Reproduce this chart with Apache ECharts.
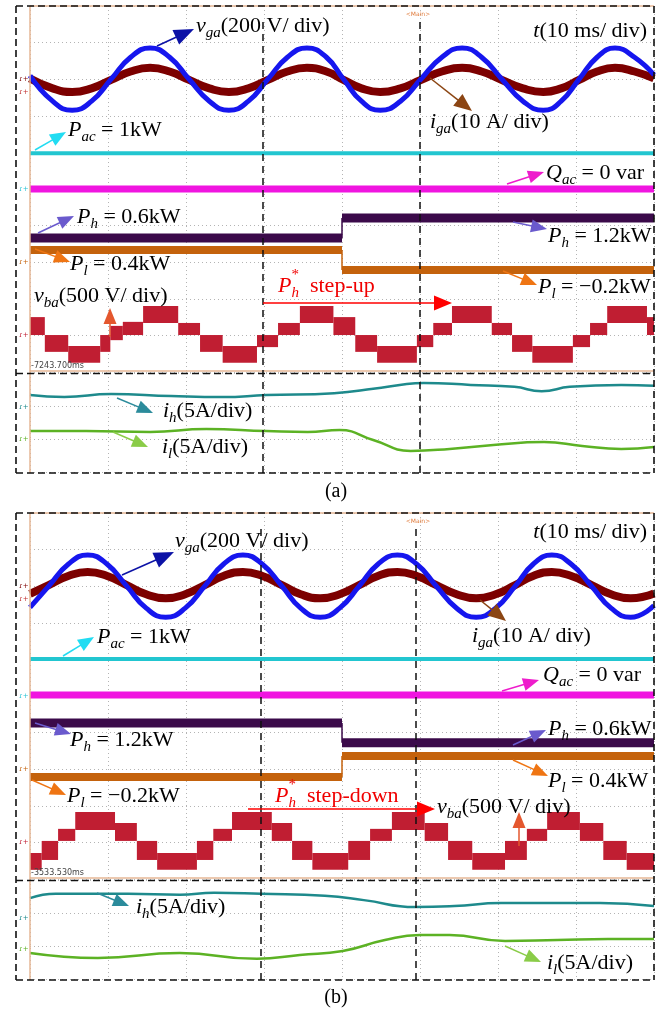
<!DOCTYPE html>
<html><head><meta charset="utf-8">
<script src="https://cdn.jsdelivr.net/npm/echarts@6/dist/echarts.min.js"></script>
<style>html,body{margin:0;padding:0;background:#fff;}#c{width:668px;height:1011px;}</style>
</head><body><div id="c"></div>
<script>
// ---------- DATA (time in ms, values in oscilloscope screen divisions) ----------
const timeTicks = [0,10,20,30,40,50,60,70,80];
const stepTime = 40;

// Panel (a)
const vgaA = [[0,8.10],[2.9,7.40],[5.4,7.15],[7.9,7.40],[10.4,8.0],[12.9,8.60],[15.4,8.85],[17.9,8.60],[20.4,8.0],[23.0,7.40],[25.5,7.15],[28.0,7.40],[30.5,8.0],[33.0,8.60],[35.5,8.85],[38.0,8.60],[40.2,8.0],[42.5,7.40],[44.9,7.15],[47.5,7.40],[50.1,8.0],[52.8,8.60],[55.4,8.85],[57.9,8.60],[60.5,8.0],[63.2,7.40],[65.8,7.15],[68.1,7.40],[70.4,8.0],[72.7,8.60],[75.0,8.85],[77.5,8.60],[80,8.12]];
const igaA = [[0,8.02],[2.9,7.75],[5.4,7.65],[7.9,7.75],[10.4,7.98],[12.9,8.21],[15.4,8.31],[17.9,8.21],[20.4,7.98],[23.0,7.75],[25.5,7.65],[28.0,7.75],[30.5,7.98],[33.0,8.21],[35.5,8.31],[38.0,8.21],[40.2,7.98],[42.5,7.75],[44.9,7.65],[47.5,7.75],[50.1,7.98],[52.8,8.21],[55.4,8.31],[57.9,8.21],[60.5,7.98],[63.2,7.75],[65.8,7.65],[68.1,7.75],[70.4,7.98],[72.7,8.21],[75.0,8.31],[77.5,8.21],[80,8.02]];
const pacA = 5.98;
const qacA = 5.0;
const phA = [3.66, 4.21];   // before / after step
const plA = [3.33, 2.79];
const vbaA = [ // [t0, t1, low, high]
 [0,1.9,1.01,1.50],[1.9,4.9,0.55,1.01],[4.9,9.0,0.25,0.71],[9.0,10.3,0.55,1.01],[10.3,11.9,0.87,1.26],[11.9,14.5,1.01,1.37],
 [14.5,19.0,1.34,1.80],[19.0,21.8,1.01,1.34],[21.8,24.7,0.55,1.01],[24.7,29.1,0.25,0.71],[29.1,31.8,0.68,1.01],[31.8,34.6,1.01,1.34],
 [34.6,38.9,1.34,1.80],[38.9,41.7,1.01,1.50],[41.7,44.5,0.55,1.01],[44.5,49.6,0.25,0.71],[49.6,51.7,0.68,1.01],[51.7,54.1,1.01,1.34],
 [54.1,59.2,1.34,1.80],[59.2,61.8,1.01,1.34],[61.8,64.4,0.55,1.01],[64.4,69.6,0.25,0.71],[69.6,71.8,0.68,1.01],[71.8,74.0,1.01,1.34],
 [74.0,79.1,1.34,1.80],[79.1,80,1.01,1.50]];
const ihA = [[0,2.33],[4.4,2.27],[10.4,2.36],[18.1,2.30],[24.7,2.27],[30.3,2.33],[39.0,2.39],[44.0,2.52],[48.3,2.67],[50.5,2.70],[56.5,2.64],[62.1,2.58],[65.6,2.45],[69.2,2.58],[75.8,2.64],[80,2.61]];
const ilA = [[0,1.24],[7.2,1.24],[15.4,1.21],[22.6,1.30],[30.3,1.24],[35.6,1.21],[39.7,1.27],[44.0,0.97],[48.8,0.64],[53.8,0.70],[59.4,0.82],[65.9,0.91],[70.8,0.79],[75.8,0.70],[80,0.76]];

// Panel (b)
const vgaB = [[0,7.42],[2.4,8.0],[4.9,8.60],[7.4,8.85],[9.9,8.60],[12.4,8.0],[14.9,7.40],[17.4,7.15],[19.9,7.40],[22.4,8.0],[24.8,8.60],[27.3,8.85],[29.8,8.60],[32.3,8.0],[34.7,7.40],[37.2,7.15],[39.7,7.40],[42.2,8.0],[44.6,8.60],[47.1,8.85],[49.6,8.60],[52.1,8.0],[54.7,7.40],[57.2,7.15],[59.7,7.40],[62.2,8.0],[64.5,8.60],[66.9,8.85],[69.4,8.60],[72.0,8.0],[74.5,7.40],[77.0,7.15],[80,7.47]];
const igaB = [[0,7.79],[2.4,8.03],[4.9,8.28],[7.4,8.39],[9.9,8.28],[12.4,8.03],[14.9,7.78],[17.4,7.67],[19.9,7.78],[22.4,8.03],[24.8,8.28],[27.3,8.39],[29.8,8.28],[32.3,8.03],[34.7,7.78],[37.2,7.67],[39.7,7.78],[42.2,8.03],[44.6,8.28],[47.1,8.39],[49.6,8.28],[52.1,8.03],[54.7,7.78],[57.2,7.67],[59.7,7.78],[62.2,8.03],[64.5,8.28],[66.9,8.39],[69.4,8.28],[72.0,8.03],[74.5,7.78],[77.0,7.67],[80,7.80]];
const pacB = 6.01;
const qacB = 5.03;
const phB = [4.26, 3.72];
const plB = [2.79, 3.36];
const vbaB = [
 [0,1.5,0.25,0.71],[1.5,3.6,0.52,1.04],[3.6,5.8,1.04,1.37],[5.8,10.9,1.34,1.83],[10.9,13.7,1.04,1.53],[13.7,16.3,0.52,1.04],
 [16.3,21.4,0.25,0.71],[21.4,23.5,0.52,1.04],[23.5,25.9,1.04,1.37],[25.9,31.0,1.34,1.83],[31.0,33.6,1.04,1.53],[33.6,36.2,0.52,1.04],
 [36.2,40.8,0.25,0.71],[40.8,43.6,0.52,1.04],[43.6,46.4,1.04,1.37],[46.4,50.6,1.34,1.83],[50.6,53.6,1.04,1.53],[53.6,56.7,0.52,1.04],
 [56.7,60.9,0.25,0.71],[60.9,63.7,0.52,1.04],[63.7,66.3,1.04,1.37],[66.3,70.5,1.34,1.83],[70.5,73.5,1.04,1.53],[73.5,76.5,0.52,1.04],
 [76.5,80,0.25,0.71]];
const ihB = [[0,2.45],[3.3,2.58],[12.6,2.58],[19.2,2.55],[23.6,2.61],[29.6,2.58],[37.8,2.52],[42.8,2.39],[49.4,2.18],[54.4,2.21],[60.4,2.30],[65.4,2.30],[73.1,2.30],[80,2.21]];
const ilB = [[0,0.79],[8.7,0.64],[19.2,0.79],[29.1,0.61],[34.6,0.73],[40.1,0.85],[45.5,1.18],[50.0,1.33],[53.8,1.33],[60.9,1.15],[67.6,1.18],[74.1,1.21],[80,1.21]];

// ---------- STYLES ----------
const C = {vga:'#1616ee', iga:'#7c0000', pac:'#22c6d0', qac:'#f015e0', ph:'#3b0a4a', pl:'#c4620c',
           vba:'#c01e32', ih:'#1e8a8c', il:'#5cb224'};
const FONT = '"Liberation Serif","Times New Roman",serif';
const MAIN = 22, SUB = 15;

function rectRender(color){
  return function(params, api){
    const p0 = api.coord([api.value(0), api.value(3)]);
    const p1 = api.coord([api.value(1), api.value(2)]);
    return {type:'rect', shape:{x:p0[0], y:p0[1], width:p1[0]-p0[0], height:p1[1]-p0[1]}, style:{fill:color}};
  };
}
function ln(gi, data, color, width, smooth){
  return {type:'line', xAxisIndex:gi, yAxisIndex:gi, data, showSymbol:false, smooth:smooth?0.5:false,
          lineStyle:{color, width}, silent:true, z:3};
}
function panelSeries(gu, gl, d){
  return [
    {type:'custom', xAxisIndex:gu, yAxisIndex:gu, data:d.vba, encode:{x:[0,1], y:[2,3]}, renderItem:rectRender(C.vba), z:2, silent:true},
    ln(gu, d.iga, C.iga, 8, true),
    ln(gu, d.vga, C.vga, 5, true),
    ln(gu, [[0,d.pac],[80,d.pac]], C.pac, 4),
    ln(gu, [[0,d.qac],[80,d.qac]], C.qac, 7),
    ln(gu, [[0,d.ph[0]],[stepTime,d.ph[0]]], C.ph, 9),
    ln(gu, [[stepTime,d.ph[1]],[80,d.ph[1]]], C.ph, 9),
    ln(gu, [[stepTime,d.ph[0]],[stepTime,d.ph[1]]], C.ph, 1.5),
    ln(gu, [[0,d.pl[0]],[stepTime,d.pl[0]]], C.pl, 8),
    ln(gu, [[stepTime,d.pl[1]],[80,d.pl[1]]], C.pl, 8),
    ln(gu, [[stepTime,d.pl[0]],[stepTime,d.pl[1]]], C.pl, 1.5),
    ln(gl, d.ih, C.ih, 2.5, true),
    ln(gl, d.il, C.il, 2.5, true)
  ];
}

const grids = [
  {left:30, top:6, width:624, height:366},
  {left:30, top:373, width:624, height:99},
  {left:30, top:513, width:624, height:366},
  {left:30, top:880, width:624, height:99}
];
const dotted = {show:true, lineStyle:{color:'#b4b4b4', type:[1,3], width:1}};
const xAxes = grids.map((g,i)=>({type:'value', gridIndex:i, min:timeTicks[0], max:timeTicks[timeTicks.length-1], interval:10,
  axisLine:{show:false}, axisTick:{show:false}, axisLabel:{show:false}, splitLine:dotted}));
const yAxes = grids.map((g,i)=>({type:'value', gridIndex:i, min:0, max:(i%2===0?10:3), interval:1,
  axisLine:{show:false}, axisTick:{show:false}, axisLabel:{show:false}, splitLine:dotted}));

// ---------- ANNOTATIONS (graphic layer) ----------
const els = [];
const mc = document.createElement('canvas').getContext('2d');
function mw(t,size,it){ mc.font=(it?'italic ':'')+size+'px '+FONT; return mc.measureText(t).width; }
function T(x,y,text,size,it,color,align,family){
  els.push({type:'text', x, y, z:100, silent:true, style:{text, fontSize:size, fontFamily:family||FONT,
    fontStyle:it?'italic':'normal', fill:color, align:align||'left', textAlign:align||'left',
    verticalAlign:'middle', textVerticalAlign:'middle'}});
}
function L(x,y,parts,color,right){
  color=color||'#000'; const items=[]; let cx=0;
  parts.forEach(p=>{
    if(typeof p==='string') p={t:p};
    if(p.stack){
      items.push([cx,-11,p.stack[0],SUB,false]); items.push([cx,7,p.stack[1],SUB,true]);
      cx+=Math.max(mw(p.stack[0],SUB,false), mw(p.stack[1],SUB,true));
    } else {
      const size=p.sub?SUB:MAIN, it=!!(p.it||p.sub);
      items.push([cx,p.sub?7:0,p.t,size,it]); cx+=mw(p.t,size,it);
    }
  });
  const x0=right?x-cx:x;
  items.forEach(a=>T(x0+a[0],y+a[1],a[2],a[3],a[4],color));
}
function A(x1,y1,x2,y2,color,hl,hw,lw){
  hl=hl||16; hw=hw||13; lw=lw||1.5;
  const dx=x2-x1, dy=y2-y1, Ln=Math.hypot(dx,dy), ux=dx/Ln, uy=dy/Ln;
  const bx=x2-ux*hl, by=y2-uy*hl, px=-uy*hw/2, py=ux*hw/2;
  els.push({type:'line', z:101, silent:true, shape:{x1,y1,x2:bx+ux*2,y2:by+uy*2}, style:{stroke:color,lineWidth:lw}});
  els.push({type:'polygon', z:101, silent:true, shape:{points:[[x2,y2],[bx+px,by+py],[bx-px,by-py]]}, style:{fill:color}});
}
function Dl(x1,y1,x2,y2,w,dash,color){
  els.push({type:'line', z:99, silent:true, shape:{x1,y1,x2,y2}, style:{stroke:color||'#111',lineWidth:w||1.6,lineDash:dash||[7,4]}});
}
function frame(oy, vx1, vx2, timeText){
  // scope screen edges (tan)
  els.push({type:'line', z:98, silent:true, shape:{x1:30,y1:oy+6,x2:30,y2:oy+473}, style:{stroke:'#e6b796',lineWidth:1.5}});
  els.push({type:'line', z:98, silent:true, shape:{x1:30,y1:oy+6,x2:654,y2:oy+6}, style:{stroke:'#e6b796',lineWidth:1.5}});
  els.push({type:'line', z:98, silent:true, shape:{x1:30,y1:oy+371,x2:654,y2:oy+371}, style:{stroke:'#e6b796',lineWidth:1.5}});
  // dashed author frame
  Dl(16,oy+6,654,oy+6); Dl(16,oy+473,654,oy+473); Dl(16,oy+6,16,oy+473); Dl(654,oy+6,654,oy+473);
  Dl(16,oy+373.5,654,oy+373.5);
  Dl(vx1,oy+22,vx1,oy+473,1.5,[7,5]); Dl(vx2,oy+22,vx2,oy+473,1.5,[7,5]);
  T(418,oy+14,'<Main>',6,false,'#e07a3a','center','DejaVu Sans');
  T(31,oy+366,timeText,8,false,'#444','left','DejaVu Sans');
}
frame(0,263,420,'-7243.700ms');
frame(507,261,416,'-3533.530ms');

// channel markers
[[79,C.iga],[92,'#c03030'],[189,'#2bc4d4'],[262,C.pl],[335,C.vba],[407,C.ih],[439,C.il],
 [586,C.iga],[599,'#c03030'],[696,'#2bc4d4'],[769,C.pl],[842,C.vba],[918,C.ih],[949,C.il]]
 .forEach(m=>T(19,m[0],'ɾ+',7,false,m[1],'left','DejaVu Sans'));

// ---- panel (a) labels ----
A(157,46,194,29,'#0c12a6',20,16);
L(196,26,[{t:'v',it:1},{t:'ga',sub:1},'(200 V/ div)']);
L(647,31,[{t:'t',it:1},'(10 ms/ div)'],'#000',true);
A(430,78,472,111,'#8b4513',18,15);
L(430,122,[{t:'i',it:1},{t:'ga',sub:1},'(10 A/ div)']);
A(35,150,66,132,'#22dcf2');
L(68,130,[{t:'P',it:1},{t:'ac',sub:1},' = 1kW']);
A(507,184,544,172,'#ee1ccc');
L(546,173,[{t:'Q',it:1},{t:'ac',sub:1},' = 0 var']);
A(38,233,74,216,'#6a5acd');
L(77,217,[{t:'P',it:1},{t:'h',sub:1},' = 0.6kW']);
A(35,249,70,262,'#ef7513');
L(70,264,[{t:'P',it:1},{t:'l',sub:1},' = 0.4kW']);
A(110,337,110,308,'#e4572e',16,13);
L(34,296,[{t:'v',it:1},{t:'ba',sub:1},'(500 V/ div)']);
A(263,303,452,303,'#ff0000',18,15);
L(278,286,[{t:'P',it:1},{stack:['*','h']},'  step-up'],'#f00000');
A(513,222,547,229,'#6a5acd');
L(548,236,[{t:'P',it:1},{t:'h',sub:1},' = 1.2kW']);
A(503,271,537,285,'#ef7513');
L(538,287,[{t:'P',it:1},{t:'l',sub:1},' = −0.2kW']);
A(117,398,153,413,'#2b8b9b');
L(163,411,[{t:'i',it:1},{t:'h',sub:1},'(5A/div)']);
A(113,432,148,447,'#8acc48');
L(162,447,[{t:'i',it:1},{t:'l',sub:1},'(5A/div)']);
T(336,492,'(a)',20,false,'#000','center');

// ---- panel (b) labels ----
A(122,575,174,552,'#0c12a6',20,16);
L(175,541,[{t:'v',it:1},{t:'ga',sub:1},'(200 V/ div)']);
L(647,532,[{t:'t',it:1},'(10 ms/ div)'],'#000',true);
A(480,600,506,621,'#8b4513',18,15);
L(472,636,[{t:'i',it:1},{t:'ga',sub:1},'(10 A/ div)']);
A(63,656,94,637,'#22dcf2');
L(97,637,[{t:'P',it:1},{t:'ac',sub:1},' = 1kW']);
A(502,691,539,680,'#ee1ccc');
L(543,675,[{t:'Q',it:1},{t:'ac',sub:1},' = 0 var']);
A(35,723,71,734,'#6a5acd');
L(70,740,[{t:'P',it:1},{t:'h',sub:1},' = 1.2kW']);
A(32,780,66,795,'#ef7513');
L(67,796,[{t:'P',it:1},{t:'l',sub:1},' = −0.2kW']);
A(513,745,546,730,'#6a5acd');
L(548,729,[{t:'P',it:1},{t:'h',sub:1},' = 0.6kW']);
A(513,760,548,776,'#ef7513');
L(548,781,[{t:'P',it:1},{t:'l',sub:1},' = 0.4kW']);
A(248,809,435,809,'#ff0000',18,15);
L(275,796,[{t:'P',it:1},{stack:['*','h']},'  step-down'],'#f00000');
A(519,846,519,812,'#e4572e',16,13);
L(437,807,[{t:'v',it:1},{t:'ba',sub:1},'(500 V/ div)']);
A(97,893,129,906,'#2b8b9b');
L(136,907,[{t:'i',it:1},{t:'h',sub:1},'(5A/div)']);
A(505,946,541,962,'#8acc48');
L(547,963,[{t:'i',it:1},{t:'l',sub:1},'(5A/div)']);
T(336,998,'(b)',20,false,'#000','center');

const series = [
  ...panelSeries(0,1,{vga:vgaA,iga:igaA,pac:pacA,qac:qacA,ph:phA,pl:plA,vba:vbaA,ih:ihA,il:ilA}),
  ...panelSeries(2,3,{vga:vgaB,iga:igaB,pac:pacB,qac:qacB,ph:phB,pl:plB,vba:vbaB,ih:ihB,il:ilB})
];

const chart = echarts.init(document.getElementById('c'), null, {renderer:'canvas', width:668, height:1011});
chart.setOption({
  animation:false,
  backgroundColor:'#ffffff',
  grid:grids.map(g=>Object.assign({outerBoundsMode:'none', containLabel:false}, g)),
  xAxis:xAxes, yAxis:yAxes,
  series,
  graphic:{elements:els}
});
</script></body></html>
